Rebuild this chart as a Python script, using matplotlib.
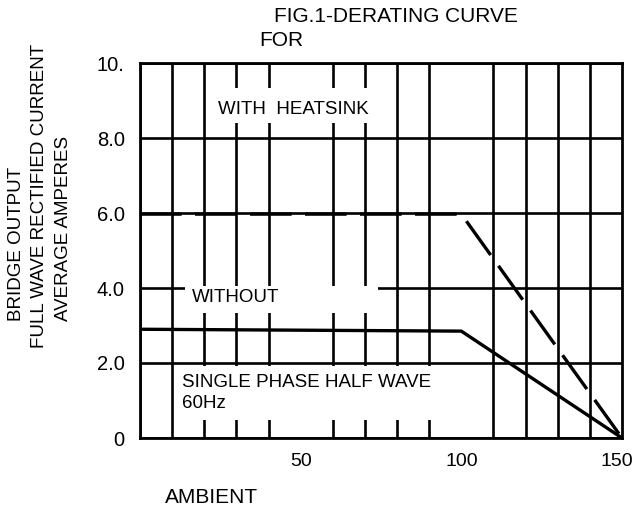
import matplotlib
matplotlib.use("Agg")
import matplotlib.pyplot as plt
import matplotlib.transforms as mtransforms
from matplotlib.patches import Rectangle

plt.rcParams['font.family'] = ['Liberation Sans', 'DejaVu Sans']

# derating curves (ambient temp vs output current)
heatsink_x = [0, 100, 150]
heatsink_y = [5.97, 5.97, 0]
without_x = [0, 100, 150]
without_y = [2.9, 2.85, 0]

x_ticks = [50, 100, 150]
x_tick_labels = ["50", "100", "150"]
y_ticks = [0, 2, 4, 6, 8, 10]
y_tick_labels = ["0", "2.0", "4.0", "6.0", "8.0", "10."]

fig = plt.figure(figsize=(6.35, 5.11), dpi=100)
ax = fig.add_axes([140 / 635, 1 - 438 / 511, 482 / 635, 375 / 511])

ax.set_xlim(0, 150)
ax.set_ylim(0, 10)

ax.set_xticks(x_ticks)
ax.set_xticklabels(x_tick_labels, fontsize=14)
ax.set_xticks(range(0, 151, 10), minor=True)
ax.set_yticks(y_ticks)
ax.set_yticklabels(y_tick_labels, fontsize=14.5)
ax.tick_params(which='both', length=0)
ax.tick_params(axis='x', pad=11)
ax.tick_params(axis='y', pad=11)

# last x label sits a bit left so it stays inside the figure
last = ax.get_xticklabels()[-1]
last.set_transform(last.get_transform() + mtransforms.ScaledTranslation(-5 / 100, 0, fig.dpi_scale_trans))

ax.grid(which='minor', axis='x', color='black', lw=1.9, zorder=1)
ax.grid(which='major', axis='y', color='black', lw=1.9, zorder=1)
ax.set_axisbelow(True)
for s in ax.spines.values():
    s.set_linewidth(2.0)
    s.set_zorder(5)

# white masks behind the labels (gridlines are broken there)
masks = [(21.5, 8.4, 52.0, 0.93), (14.0, 3.33, 60.0, 0.72), (11.0, 0.48, 97.5, 1.45)]
for mx, my, mw, mh in masks:
    ax.add_patch(Rectangle((mx, my), mw, mh, facecolor='white', edgecolor='none', zorder=3))

ax.plot(heatsink_x, heatsink_y, color='black', lw=2.4, linestyle=(0, (12.5, 4)), zorder=4)
ax.plot(without_x, without_y, color='black', lw=2.4, zorder=4)

ax.text(47.6, 8.75, "WITH  HEATSINK", fontsize=13.5, ha='center', va='center', zorder=6)
ax.text(16.3, 3.76, "WITHOUT", fontsize=13.5, ha='left', va='center', zorder=6)
ax.text(13.1, 1.49, "SINGLE PHASE HALF WAVE", fontsize=13.5, ha='left', va='center', zorder=6)
ax.text(13.1, 0.93, "60Hz", fontsize=13.5, ha='left', va='center', zorder=6)

fig.text(396 / 635, 1 - 17 / 511, "FIG.1-DERATING CURVE", fontsize=15, ha='center', va='center')
fig.text(281 / 635, 1 - 40 / 511, "FOR", fontsize=15, ha='center', va='center')
fig.text(212 / 635, 1 - 497 / 511, "AMBIENT", fontsize=15, ha='center', va='center')

fig.text(17 / 635, 1 - 244 / 511, "BRIDGE OUTPUT", fontsize=13.5, rotation=90, ha='center', va='center')
fig.text(40 / 635, 1 - 196 / 511, "FULL WAVE RECTIFIED CURRENT", fontsize=13.5, rotation=90, ha='center', va='center')
fig.text(63 / 635, 1 - 228 / 511, "AVERAGE AMPERES", fontsize=13.5, rotation=90, ha='center', va='center')

fig.savefig("out.png", dpi=100)
